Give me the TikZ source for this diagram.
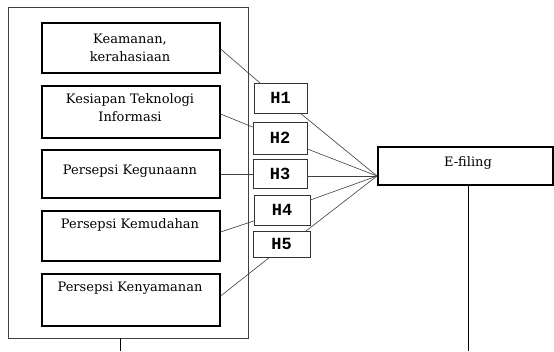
\documentclass[tikz,border=0pt]{standalone}
\usepackage{fontspec}
\setmainfont{DejaVu Serif}
\newfontfamily\hfont{Liberation Mono}
\begin{document}
\begin{tikzpicture}[x=1pt,y=-1pt,
  varbox/.style={draw=black,line width=1.6pt,minimum width=178pt,inner sep=0pt,anchor=north west},
  hbox/.style={draw=black!80,line width=0.8pt,inner sep=0pt,font=\hfont\bfseries\fontsize{17}{19}\selectfont},
  conn/.style={draw=black!75,line width=0.6pt},
  lbl/.style={font=\fontsize{13}{18}\selectfont,align=center}
]
\clip (0,0) rectangle (554,351);
\fill[white] (0,0) rectangle (554,351);
% outer frame
\draw[draw=black!75,line width=0.8pt] (8,7) rectangle (248,338);
\coordinate (outb) at (120,338);
\coordinate (outend) at (120,351);
\draw[line width=0.7pt] (outb) -- (outend);
% variable boxes
\node[varbox,minimum height=50pt] (b1) at (41,22) {};
\node[lbl] at (130,47.5) {Keamanan,\\kerahasiaan};
\node[varbox,minimum height=52pt] (b2) at (41,85) {};
\node[lbl] at (130,108) {Kesiapan Teknologi\\Informasi};
\node[varbox,minimum height=48pt] (b3) at (41,149) {};
\node[lbl] at (130,171) {Persepsi Kegunaann};
\node[varbox,minimum height=50pt] (b4) at (41,210) {};
\node[lbl] at (130,225) {Persepsi Kemudahan};
\node[varbox,minimum height=52pt] (b5) at (41,273) {};
\node[lbl] at (130,288) {Persepsi Kenyamanan};
% H boxes
\node[hbox,minimum width=53pt,minimum height=30pt] (h1) at (280.5,98) {H1};
\node[hbox,minimum width=54pt,minimum height=32pt] (h2) at (280,138) {H2};
\node[hbox,minimum width=54pt,minimum height=29pt] (h3) at (280,173.5) {H3};
\node[hbox,minimum width=56pt,minimum height=30pt] (h4) at (282,210) {H4};
\node[hbox,minimum width=57pt,minimum height=26pt] (h5) at (281.5,244) {H5};
% E-filing
\node[draw=black,line width=1.6pt,minimum width=175pt,minimum height=38pt,inner sep=0pt] (ef) at (465.5,166) {};
\node[lbl] at (468,163.5) {E-filing};
\coordinate (conv) at (377,176);
\coordinate (efb) at (468,185);
\coordinate (efend) at (468,351);
\draw[line width=0.7pt] (efb) -- (efend);
% connectors var -> H
\draw[conn] (b1.east |- 0,49) -- (260,83);
\draw[conn] (b2.east |- 0,114) -- (h2.west |- 0,127);
\draw[conn] (b3.east |- 0,174) -- (h3.west |- 0,174);
\draw[conn] (b4.east |- 0,232) -- (h4.west |- 0,221);
\draw[conn] (b5.east |- 0,296) -- (270,257);
% H -> E-filing
\draw[conn] (300,113) -- (conv);
\draw[conn] (h2.east |- 0,149) -- (conv);
\draw[conn] (h3.east |- 0,176) -- (conv);
\draw[conn] (h4.east |- 0,200) -- (conv);
\draw[conn] (306,231) -- (conv);
\end{tikzpicture}
\end{document}
